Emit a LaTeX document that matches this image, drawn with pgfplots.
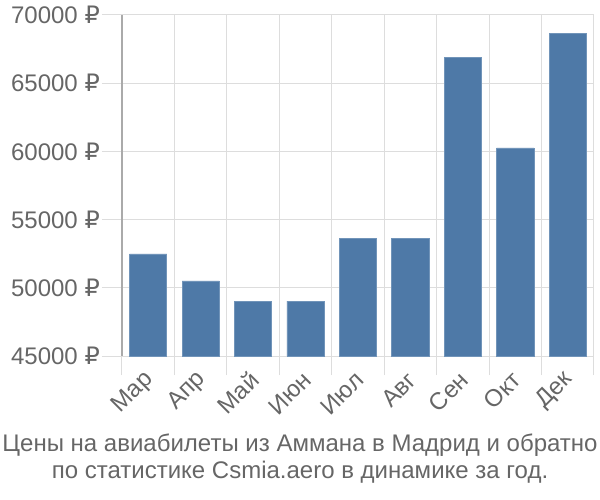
\documentclass[border=0pt]{standalone}
\usepackage{pgfplots}
\pgfplotsset{compat=1.18}
\usepackage{fontspec}
\setmainfont{Liberation Sans}
\newfontfamily\dejavu{DejaVu Sans}
\newcommand{\rub}{{\dejavu ₽}}
\definecolor{barc}{HTML}{4E79A7}
\definecolor{txt}{HTML}{666666}
\definecolor{gridc}{HTML}{DDDDDD}
\definecolor{axc}{HTML}{AAAAAA}
\begin{document}
\begin{tikzpicture}
\useasboundingbox (-122bp,-144bp) rectangle (478bp,356bp);
\begin{axis}[
  at={(0,0)}, anchor=south west,
  scale only axis, width=472bp, height=341bp,
  xmin=-0.5, xmax=8.5, ymin=45000, ymax=70000,
  scaled y ticks=false,
  xtick={0,...,8},
  xticklabels={Мар,Апр,Май,Июн,Июл,Авг,Сен,Окт,Дек},
  minor xtick={-0.5,0.5,...,8.5},
  ytick={45000,50000,...,70000},
  yticklabels={45000 \rub,50000 \rub,55000 \rub,60000 \rub,65000 \rub,70000 \rub},
  major x tick style={draw=none},
  minor x tick style={draw=gridc, line width=1bp},
  minor tick length=19bp,
  major tick length=20bp,
  y tick style={draw=gridc, line width=1bp},
  tick align=outside,
  xminorgrids, ymajorgrids,
  minor grid style={draw=gridc, line width=1bp},
  major grid style={draw=gridc, line width=1bp},
  axis x line*=bottom, axis y line*=left,
  x axis line style={draw=none},
  y axis line style={draw=axc, line width=1.2bp, -},
  ticklabel style={text=txt, font=\fontsize{24bp}{28bp}\selectfont},
  yticklabel style={xshift=-1bp},
  xticklabel style={rotate=45, anchor=east, xshift=2bp, yshift=-1bp},
  tick label style={inner sep=1bp},
  clip=false,
]
\addplot[ybar, bar width=0.71, fill=barc, draw=barc!80!white, line width=0.8bp] coordinates {
 (0,52480) (1,50500) (2,49030) (3,49030) (4,53650) (5,53650) (6,66920) (7,60250) (8,68680)
};
\end{axis}
\node[text=txt, align=center, font=\fontsize{24bp}{27bp}\selectfont] at (178bp,-103bp)
 {Цены на авиабилеты из Аммана в Мадрид и обратно\\по статистике Csmia.aero в динамике за год.};
\end{tikzpicture}
\end{document}
